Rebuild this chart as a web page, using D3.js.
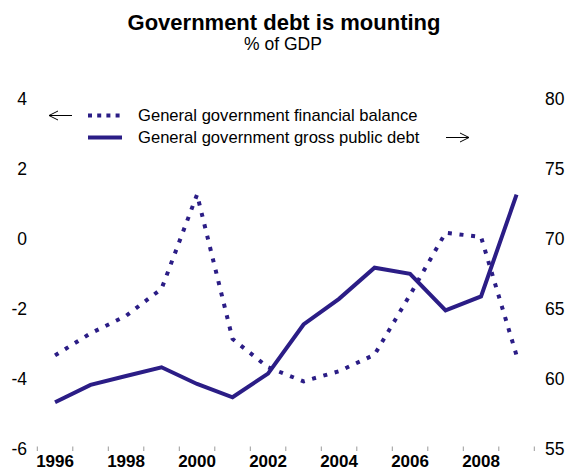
<!DOCTYPE html>
<html>
<head>
<meta charset="utf-8">
<script src="https://cdn.jsdelivr.net/npm/d3@7/dist/d3.min.js"></script>
<style>
  html, body { margin: 0; padding: 0; background: #ffffff; }
  svg { display: block; font-family: "Liberation Sans", Arial, Helvetica, sans-serif; }
</style>
</head>
<body>
<svg id="chart" width="568" height="470"></svg>
<script>
// ---- data ----
const years = [1996, 1997, 1998, 1999, 2000, 2001, 2002, 2003, 2004, 2005, 2006, 2007, 2008, 2009];
const balance = [-3.33, -2.70, -2.20, -1.43, 1.26, -2.86, -3.67, -4.07, -3.78, -3.31, -1.60, 0.17, 0.05, -3.33];
const debt = [58.33, 59.57, 60.21, 60.83, 59.64, 58.69, 60.38, 63.88, 65.71, 67.93, 67.50, 64.88, 65.88, 73.14];
const leftTicks = [4, 2, 0, -2, -4, -6];
const rightTicks = [80, 75, 70, 65, 60, 55];
const yearLabels = [1996, 1998, 2000, 2002, 2004, 2006, 2008];
const seriesNames = ["General government financial balance", "General government gross public debt"];
const title = "Government debt is mounting";
const subtitle = "% of GDP";

// ---- drawing ----
const color = "#2b1d86";
const svg = d3.select("#chart");

const x = d3.scaleBand().domain(years).range([37.3, 534.3]).padding(0);
const xc = d => x(d) + x.bandwidth() / 2;
const yL = d3.scaleLinear().domain([-6, 4]).range([449, 98.5]);
const yR = d3.scaleLinear().domain([55, 80]).range([449, 98.5]);

// title
svg.append("text").attr("x", 284).attr("y", 30).attr("text-anchor", "middle")
  .attr("font-size", 22).attr("font-weight", "bold").attr("fill", "#000").text(title);
svg.append("text").attr("x", 283).attr("y", 50).attr("text-anchor", "middle")
  .attr("font-size", 17.5).attr("fill", "#000").text(subtitle);

// left axis labels
svg.append("g").selectAll("text").data(leftTicks).join("text")
  .attr("x", 27).attr("y", d => yL(d)).attr("dy", "0.36em")
  .attr("text-anchor", "end").attr("font-size", 17.5).attr("fill", "#000")
  .text(d => d);

// right axis labels
svg.append("g").selectAll("text").data(rightTicks).join("text")
  .attr("x", 545).attr("y", d => yR(d)).attr("dy", "0.36em")
  .attr("text-anchor", "start").attr("font-size", 17.5).attr("fill", "#000")
  .text(d => d);

// x ticks at band edges
const edges = years.map(d => x(d)).concat([x(years[years.length - 1]) + x.bandwidth()]);
svg.append("g").selectAll("line").data(edges).join("line")
  .attr("x1", d => d).attr("x2", d => d).attr("y1", 446.5).attr("y2", 451)
  .attr("stroke", "#9a9a9a").attr("stroke-width", 1);

// x labels
svg.append("g").selectAll("text").data(yearLabels).join("text")
  .attr("x", d => xc(d)).attr("y", 467).attr("text-anchor", "middle")
  .attr("font-size", 17).attr("font-weight", "bold").attr("fill", "#000")
  .text(d => d);

// lines
const lineL = d3.line().x((d, i) => xc(years[i])).y(d => yL(d));
const lineR = d3.line().x((d, i) => xc(years[i])).y(d => yR(d));

svg.append("path").datum(balance).attr("d", lineL)
  .attr("fill", "none").attr("stroke", color).attr("stroke-width", 4)
  .attr("stroke-dasharray", "4 7.7");

svg.append("path").datum(debt).attr("d", lineR)
  .attr("fill", "none").attr("stroke", color).attr("stroke-width", 4)
  .attr("stroke-linejoin", "miter");

// legend
const lg = svg.append("g");
const legendRows = [
  { name: seriesNames[0], y: 115.5, dash: "4 5.2" },
  { name: seriesNames[1], y: 137.5, dash: null }
];
legendRows.forEach(r => {
  const l = lg.append("line").attr("x1", 88).attr("x2", 122).attr("y1", r.y).attr("y2", r.y)
    .attr("stroke", color).attr("stroke-width", 4);
  if (r.dash) l.attr("stroke-dasharray", r.dash);
  lg.append("text").attr("x", 138).attr("y", r.y).attr("dy", "0.35em")
    .attr("font-size", 16.6).attr("fill", "#000").text(r.name);
});

// arrows
function arrow(x1, x2, yy) {
  const dir = Math.sign(x2 - x1);
  const g = svg.append("g").attr("stroke", "#000").attr("stroke-width", 1).attr("fill", "none");
  g.append("line").attr("x1", x1).attr("x2", x2).attr("y1", yy).attr("y2", yy);
  g.append("path").attr("d", `M${x2 - dir * 9},${yy - 4.5} L${x2},${yy} L${x2 - dir * 9},${yy + 4.5}`);
}
arrow(72, 49, 115.5);
arrow(446, 469, 137.5);
</script>
</body>
</html>
